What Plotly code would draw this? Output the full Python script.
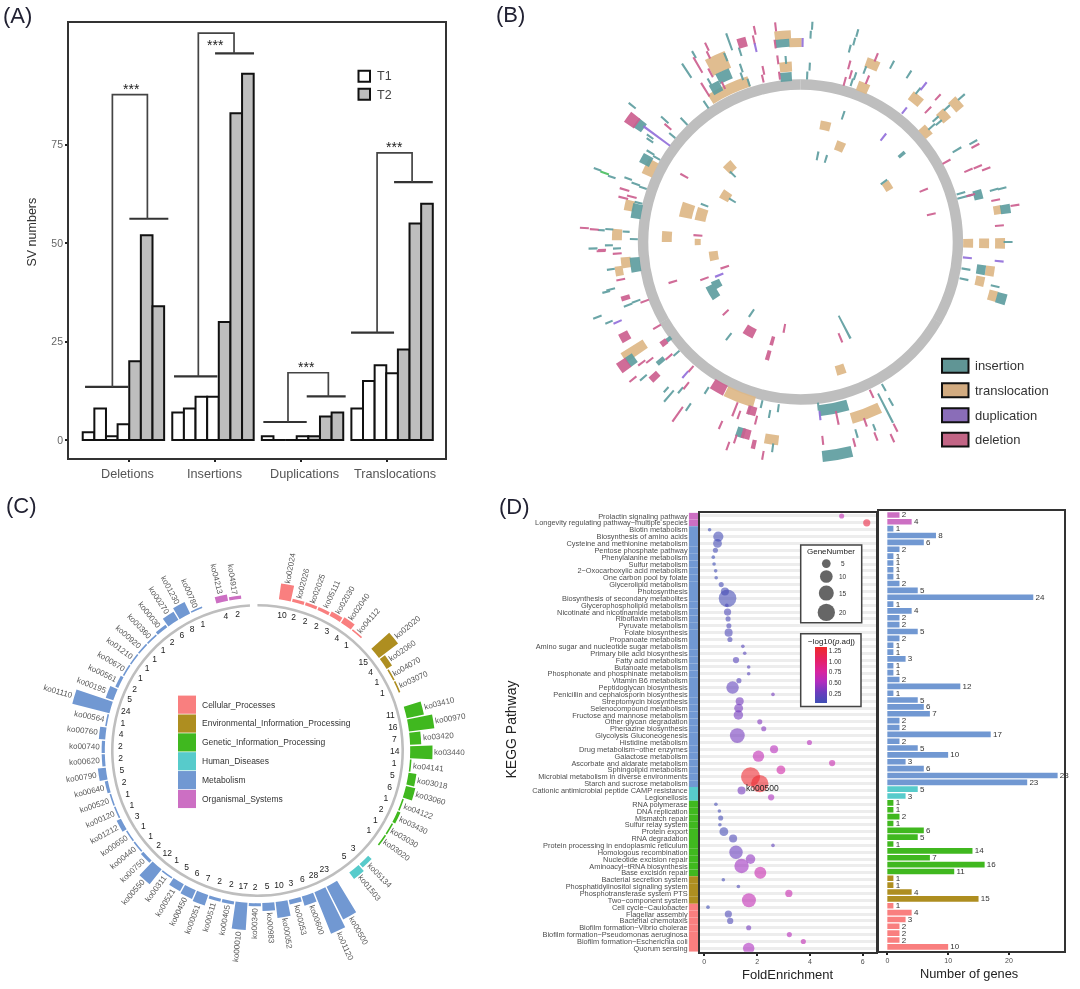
import math
import plotly.graph_objects as go

FONT = "Liberation Sans"
W, H = 1080, 989
def fx(p): return p / W
def fy(p): return 1 - p / H

# ---------- Panel A ----------
sv_groups = ["Deletions", "Insertions", "Duplications", "Translocations"]
sv_values = [[2, 8, 1, 4, 20, 52, 34], [7, 8, 11, 11, 30, 83, 93], [1, 0, 0, 1, 1, 6, 7], [8, 15, 19, 17, 23, 55, 60]]
sv_ticks = [3.48, 10.88, 18.27, 25.67]
sv_label_x = [3.31, 10.79, 18.6, 26.35]
br_lower = [(-0.3, 3.42, 13.5), (7.35, 11.08, 16.2), (15.03, 18.76, 4.6), (22.57, 26.27, 27.3)]
br_upper = [(3.51, 6.86, 56.2), (10.88, 14.23, 98.2), (18.76, 22.11, 11.1), (26.27, 29.6, 65.5)]
br_top = [(2.05, 5.06, 87.7), (9.44, 12.51, 103.3), (17.15, 20.62, 17.1), (24.81, 27.82, 72.9)]
br_star = [(3.71, 89.2), (10.88, 100.3), (18.76, 18.6), (26.35, 74.3)]

# ---------- Panel B: (genome angle, track radius, radial length[, angular span]) ----------
insertion_marks = [(309,217,9),(306,199,10,3),(312,183,10),(316,168,10),(309.7,167,8),(305,184,8),(304,182,8),(300.8,175,9),(300.3,167,8),(298,175,11,3.3),(315,96,8),(301.4,80,8),(289.7,216,8),(289,200,8),(290.2,184,8),(289.4,175,9),(289,167,8),(283.6,167,8),(280.6,167,10,5),(291,103,8),(273.4,200,7),(273.8,192,8),(273.4,175,7),(271,167,8),(268.2,208,9),(269,192,8),(268,184,8),(325.5,167,9),(331.3,176,11,3.5),(335.3,183,11,4.5),(330.4,184,9),(326.4,206,17),(330.4,216,8),(338,200,9),(340.4,213,18),(342.4,200,9),(341.2,184,9),(340.5,176,8),(342,168,8),(354.8,200,8,4),(355.4,183,8),(355,166,9,4),(3.1,217,8),(2.8,208,8),(3,176,8),(2.3,167,8),(11.2,88,9),(15.2,217,8),(15,208,8),(14.3,200,8),(17.8,168,8),(18.2,175,8),(20.5,184,8),(27.3,200,9),(32.9,200,9),(37.9,192,8),(48,217,9),(47.5,199,8),(47.7,183,8),(49.2,183,8),(48.7,175,9),(59.5,182,10),(60,200,9),(73.1,168,9),(74.6,171,16),(75.1,184,9,3),(74.9,201,9),(75.1,209,9),(80.9,208,10,2.5),(90,208,9),(18.6,134,9),(17,87,8),(49.2,134,8,1.5),(54.3,103,8),(99.3,168,9),(98.7,183,9,3),(102.8,168,9),(102.8,200,9),(105.7,209,10,3),(152.6,96,26),(150.2,168,8),(150.5,184,9),(152.9,187,33),(158.3,200,7),(163.7,200,9),(168.8,170,11,10),(170.2,216,11,8),(173.8,166,8),(187.6,168,8),(190.2,175,8),(193.5,167,8),(212.3,176,8),(196.9,176,9),(197.4,200,10,2.5),(187.7,208,9),(214.2,200,9),(219,191,8),(222.3,200,7),(220.5,203,15),(229.2,208,9),(229.6,184,9,1.5),(228.1,167,8),(235.1,207,9,3),(233.6,164,6,1.5),(250.2,175,9),(249.9,184,9),(256,196,9),(255.6,201,8),(262.2,167,10,5),(261.8,192,8),(249.7,217,9),(247.3,208,8),(243.3,94,9,5),(240.4,101,9,8),(214.6,86.5,9),(217.2,119,9)]
translocation_marks = [(296.2,168,11,5.5),(316.7,103,10,5.5),(301.6,88,10,6),(282,175,10,3.5),(285.4,118,13,7),(285.4,103,11,7),(272.3,134,10,4.5),(270,103,6,3.5),(272.3,184,10,3.5),(335,169,11,14.5),(335.3,197,18,6),(355.1,208,9,4.5),(358.5,200,9,3.7),(355.2,176,10,4),(22,192,10,4),(22,167,10,4),(38.9,184,10,4),(48.5,208,10,3.5),(48.6,191,10,3.5),(48.6,167,9,4),(80.8,200,8,2.5),(90.4,168,10,3),(90.4,184,10,3),(90.4,200,10,3),(12,119,9,5),(22.4,103.5,10,5),(57.3,103.6,8,5),(98.7,192,9,3),(102.3,184,9,3),(105.6,200,9,3),(162.6,134,10,4),(159.2,184,11,9.5),(201.3,167,11,10.5),(188.3,200,10,4),(236.8,199,26,3),(260.9,184,8,3),(263.3,176,10,3.5),(261,88,9,6)]
deletion_marks = [(305.9,208,12,3.3),(311,176,9),(299.6,134,9),(286.6,184,10),(285,175,10),(284,183,10),(273.7,103,9),(273.7,217,9),(273.5,207,9),(267.7,199,8),(328,180,16),(332,192,10),(333.8,175,8),(329.9,205,18),(333.8,209,8),(334.4,217,9),(343.7,208,10,2.5),(347.8,217,9),(347,208,9),(347.8,176,9),(347,168,8),(353.4,217,9),(352.7,200,9),(352.9,184,9),(352.8,168,8),(15.4,184,9),(16.7,175,9),(15.4,167,9),(22.3,200,9),(22.4,176,9),(43.5,200,8),(44,184,9),(61.2,167,9),(61.2,200,9),(66.9,183,9),(67,193,9),(68.5,200,9),(74.6,177,9),(77.9,200,9),(80.3,218,9),(85.3,200,9),(67.2,134,9),(78,134,9),(157.4,104,10),(154.9,168,9),(152.9,209,9),(160.2,192,9),(158.8,209,9),(154.9,217,9),(165,208,9),(168.2,180,14),(173.6,200,9),(209.3,167,11,5),(201.4,180,15),(199.6,184,9),(196.1,176,9,3),(194,184,9),(203.6,200,9),(195.8,200,10,2.5),(198.3,208,9),(199.6,217,9),(193,208,9,1.2),(190,217,9),(215.5,212,18),(218.5,184,9),(220.8,168,8),(230.7,217,9),(227.3,199,10,2),(228.9,175,9),(231.9,192,9),(232.7,200,9),(235.1,216,11,3),(241.7,200,10,2.7),(239.4,167,9),(233.6,170,7,2),(249.2,167,9),(252.3,184,9,1.5),(258.2,184,9),(267.4,200,9),(266.4,184,9),(251.6,80,9),(249.1,103,9),(252.7,134,9),(226.7,103,8),(209.5,103,10,6),(190.6,88,9),(195.9,103,9,2),(195.9,118,10,2)]
duplication_marks = [(306.4,179,33),(347,200,9),(0.6,200,9),(38.3,199,10),(38.3,168,8),(38.3,134,9),(95.4,168,9),(95.5,200,9),(173.6,175,9),(221,176,9),(246.4,200,9),(247.8,88,9)]
other_marks = [(289.4,208,9)]
sv_legend = ["insertion", "translocation", "duplication", "deletion"]

# ---------- Panel D / C shared ----------
pathways = ["Prolactin signaling pathway","Longevity regulating pathway−multiple species","Biotin metabolism","Biosynthesis of amino acids","Cysteine and methionine metabolism","Pentose phosphate pathway","Phenylalanine metabolism","Sulfur metabolism","2−Oxocarboxylic acid metabolism","One carbon pool by folate","Glycerolipid metabolism","Photosynthesis","Biosynthesis of secondary metabolites","Glycerophospholipid metabolism","Nicotinate and nicotinamide metabolism","Riboflavin metabolism","Pyruvate metabolism","Folate biosynthesis","Propanoate metabolism","Amino sugar and nucleotide sugar metabolism","Primary bile acid biosynthesis","Fatty acid metabolism","Butanoate metabolism","Phosphonate and phosphinate metabolism","Vitamin B6 metabolism","Peptidoglycan biosynthesis","Penicillin and cephalosporin biosynthesis","Streptomycin biosynthesis","Selenocompound metabolism","Fructose and mannose metabolism","Other glycan degradation","Phenazine biosynthesis","Glycolysis Gluconeogenesis","Histidine metabolism","Drug metabolism−other enzymes","Galactose metabolism","Ascorbate and aldarate metabolism","Sphingolipid metabolism","Microbial metabolism in diverse environments","Starch and sucrose metabolism","Cationic antimicrobial peptide CAMP resistance","Legionellosis","RNA polymerase","DNA replication","Mismatch repair","Sulfur relay system","Protein export","RNA degradation","Protein processing in endoplasmic reticulum","Homologous recombination","Nucleotide excision repair","Aminoacyl−tRNA biosynthesis","Base excision repair","Bacterial secretion system","Phosphatidylinositol signaling system","Phosphotransferase system PTS","Two−component system","Cell cycle−Caulobacter","Flagellar assembly","Bacterial chemotaxis","Biofilm formation−Vibrio cholerae","Biofilm formation−Pseudomonas aeruginosa","Biofilm formation−Escherichia coli","Quorum sensing"]
gene_counts = [2,4,1,8,6,2,1,1,1,1,2,5,24,1,4,2,2,5,2,1,1,3,1,1,2,12,1,5,6,7,2,2,17,2,5,10,3,6,28,23,5,3,1,1,2,1,6,5,1,14,7,16,11,1,1,4,15,1,4,3,2,2,2,10]
fold_enrichment = [5.2,6.15,0.2,0.53,0.5,0.42,0.34,0.37,0.43,0.45,0.64,0.78,0.88,0.85,0.88,0.9,0.93,0.92,0.97,1.46,1.53,1.2,1.68,1.68,1.31,1.07,2.6,1.34,1.3,1.29,2.1,2.25,1.25,3.98,2.64,2.05,4.84,2.9,1.75,2.1,1.41,2.53,0.44,0.57,0.62,0.59,0.74,1.09,2.6,1.2,1.75,1.41,2.12,0.72,1.29,3.2,1.69,0.14,0.91,0.98,1.68,3.22,3.75,1.68]
neg_log_p = [.6,1.2,.02,.05,.05,.05,.02,.02,.03,.03,.05,.05,.05,.08,.1,.08,.1,.1,.1,.15,.15,.15,.15,.15,.15,.2,.3,.3,.3,.3,.35,.35,.3,.55,.55,.6,.65,.7,1.3,1.3,.3,.5,.05,.05,.05,.05,.05,.1,.2,.25,.4,.45,.65,.05,.1,.65,.6,.02,.1,.1,.3,.55,.6,.5]
category_names = ["Cellular_Processes","Environmental_Information_Processing","Genetic_Information_Processing","Human_Diseases","Metabolism","Organismal_Systems"]
category_colors = ["#F97F7F","#AE8E20","#40B81F","#57CBCB","#7198D2","#CC6FC3"]
category_rows_top_down = [(5,2),(4,38),(3,2),(2,11),(1,4),(0,7)]
ko_ids = ["ko02024","ko02026","ko02025","ko05111","ko02030","ko02040","ko04112","ko02020","ko02060","ko04070","ko03070","ko03410","ko00970","ko03420","ko03440","ko04141","ko03018","ko03060","ko04122","ko03430","ko03030","ko03020","ko05134","ko01503","ko00500","ko01120","ko00600","ko00053","ko00052","ko00983","ko00340","ko00010","ko00405","ko00511","ko00051","ko00450","ko00521","ko00311","ko00550","ko00750","ko00440","ko00650","ko01212","ko00120","ko00520","ko00640","ko00790","ko00620","ko00740","ko00760","ko00564","ko01110","ko00195","ko00561","ko00670","ko01210","ko00920","ko00360","ko00030","ko00270","ko01230","ko00780","ko04213","ko04917"]
legend_gene_sizes = [5, 10, 15, 20]
colorbar_ticks = [0.25, 0.5, 0.75, 1.0, 1.25]

row_cat = []
for c, n in category_rows_top_down:
    row_cat += [c] * n
row_colors = [category_colors[c] for c in row_cat]

fig = go.Figure()
shapes, ann = [], []
def note(px, py, text, size=10, color="#333333", xanchor="center", yanchor="middle", angle=0):
    ann.append(dict(x=fx(px), y=fy(py), xref="paper", yref="paper", text=text, showarrow=False,
                    font=dict(size=size, color=color, family=FONT), xanchor=xanchor, yanchor=yanchor,
                    textangle=angle, borderpad=0, borderwidth=0))
def box(x0, y0, x1, y1, fill, line="#111111", lw=2, kind="rect"):
    shapes.append(dict(type=kind, xref="paper", yref="paper", x0=fx(x0), x1=fx(x1), y0=fy(y0), y1=fy(y1),
                       fillcolor=fill, line=dict(color=line, width=lw), layer="above"))

# ---- A traces
STEP = 7.7
for mask, color in (((0, 4), "white"), ((4, 7), "#BEBEBE")):
    xs, ys = [], []
    for g, vals in enumerate(sv_values):
        for i in range(*mask):
            xs.append(g * STEP + i)
            ys.append(vals[i])
    fig.add_bar(x=xs, y=ys, width=1, marker=dict(color=color, line=dict(color="#111111", width=2)),
                xaxis="x", yaxis="y", showlegend=False, hoverinfo="skip")
lx, ly = [], []
for a, b, y in br_lower + br_upper:
    lx += [a, b, None]; ly += [y, y, None]
fig.add_scatter(x=lx, y=ly, mode="lines", line=dict(color="#333333", width=2.2), xaxis="x", yaxis="y",
                showlegend=False, hoverinfo="skip")
lx, ly = [], []
for k in range(4):
    a, b, y = br_top[k]
    lx += [a, a, b, b, None]
    ly += [br_lower[k][2], y, y, br_upper[k][2], None]
fig.add_scatter(x=lx, y=ly, mode="lines", line=dict(color="#444444", width=1.7), xaxis="x", yaxis="y",
                showlegend=False, hoverinfo="skip")
for sx, sy in br_star:
    ann.append(dict(x=sx, y=sy, xref="x", yref="y", text="***", showarrow=False,
                    font=dict(size=14, color="#222222", family=FONT)))
for name, xv in zip(sv_groups, sv_label_x):
    ann.append(dict(x=xv, y=fy(474), xref="x", yref="paper", text=name, showarrow=False,
                    font=dict(size=12.7, color="#555555", family=FONT)))
box(358.5, 70, 370, 81, "white"); box(358.5, 88, 370, 99, "#BEBEBE")
note(384, 75, "T1", 12.5, "#444444"); note(384, 94, "T2", 12.5, "#444444")
note(32, 232, "SV numbers", 12.5, "#333333", angle=-90)

# ---- B traces
def polar_marks(marks, color, sub):
    th, r, base, wd = [], [], [], []
    for m in marks:
        t, rc, ln = m[:3]
        th.append(t); r.append(ln); base.append(rc - ln / 2)
        wd.append(m[3] if len(m) > 3 else math.degrees(2.1 / rc))
    fig.add_trace(go.Barpolar(theta=th, r=r, base=base, width=wd, marker=dict(color=color, line=dict(width=0)),
                              subplot=sub, showlegend=False, hoverinfo="skip", opacity=0.92))
ring_b_theta = [60, 180, 300]
fig.add_trace(go.Barpolar(theta=ring_b_theta, r=[10.5]*3, base=[152.5]*3, width=[120.05]*3,
                          marker=dict(color="#BEBEBE", line=dict(width=0)), subplot="polar", showlegend=False, hoverinfo="skip"))
polar_marks(translocation_marks, "#DEB887", "polar")
polar_marks(insertion_marks, "#5F9EA0", "polar")
polar_marks(deletion_marks, "#CD6090", "polar")
polar_marks(duplication_marks, "#9370DB", "polar")
polar_marks(other_marks, "#4CBF62", "polar")
for name, y0, col in zip(sv_legend, (358.5, 383, 408, 432.5), ("#609595", "#D2AB80", "#8A6DB8", "#C26585")):
    box(942, y0, 968.5, y0 + 14, col)
    note(975, y0 + 7, name, 13, "#333333", xanchor="left")

# ---- C traces
SLOT = 5.02
C_CX, C_CY = 257.5, 751
counts_cw = gene_counts[::-1]
cats_cw = row_cat[::-1]
theta_c, gap = [], 0
for i, c in enumerate(cats_cw):
    if i and c != cats_cw[i - 1]:
        gap += 1
    theta_c.append(10.3 + SLOT * (i + gap))
fig.add_trace(go.Barpolar(theta=[59.5, 178.5, 297.5], r=[2.6]*3, base=[144.2]*3, width=[119.05]*3,
                          marker=dict(color="#BEBEBE", line=dict(width=0)), subplot="polar2", showlegend=False, hoverinfo="skip"))
fig.add_trace(go.Barpolar(theta=theta_c, r=[v * 1.6 for v in counts_cw], base=[153]*64, width=[4.5]*64,
                          marker=dict(color=[category_colors[c] for c in cats_cw], line=dict(width=0)),
                          subplot="polar2", showlegend=False, hoverinfo="skip"))
fig.add_trace(go.Scatterpolar(theta=theta_c, r=[137.5]*64, text=[str(v) for v in counts_cw], mode="text",
                              textfont=dict(size=8.5, color="#222222", family=FONT), subplot="polar2",
                              showlegend=False, hoverinfo="skip"))
for t, v, ko in zip(theta_c, counts_cw, ko_ids):
    rr = 153 + v * 1.6 + 2 + 15
    a = math.radians(t)
    ang = t - 90 if t < 180 else t - 270
    note(C_CX + rr * math.sin(a), C_CY - rr * math.cos(a), ko, 8, "#595959", angle=ang)
for k, (name, col) in enumerate(zip(category_names, category_colors)):
    y0 = 696 + k * 18.9
    box(178, y0, 196, y0 + 18.2, col, line=col, lw=0)
    note(202, y0 + 9, name, 8.5, "#333333", xanchor="left")

# ---- D traces
strip_y = pathways
fig.add_bar(x=[1]*64, y=strip_y, orientation="h", width=1, marker=dict(color=row_colors, line=dict(width=0)),
            xaxis="x3", yaxis="y3", showlegend=False, hoverinfo="skip")
fig.add_scatter(x=fold_enrichment, y=pathways, mode="markers", xaxis="x2", yaxis="y2", showlegend=False, hoverinfo="skip",
                marker=dict(size=[3.6 * math.sqrt(g) for g in gene_counts], sizemode="diameter", color=neg_log_p,
                            opacity=0.6, line=dict(width=0), cmin=0.013, cmax=1.33,
                            colorscale=[[0, "#3F4FB5"], [0.19, "#6B3DBE"], [0.38, "#B12DBF"], [0.56, "#D8249F"], [0.75, "#E5206A"], [1, "#EE2A2A"]],
                            colorbar=dict(x=fx(815), xanchor="left", y=fy(675.7), yanchor="middle", xpad=0, ypad=0,
                                          thickness=12, thicknessmode="pixels", len=55.5, lenmode="pixels",
                                          tickvals=colorbar_ticks, ticktext=["%.2f" % v for v in colorbar_ticks],
                                          tickfont=dict(size=6.5, color="#333333", family=FONT), ticks="", outlinewidth=0)))
for v in range(7):
    shapes.append(dict(type="line", xref="x2", yref="y2", x0=v, x1=v, y0=-0.48, y1=63.5, layer="below",
                       line=dict(color="white", width=2)))
ann.append(dict(x=2.2, y="Starch and sucrose metabolism", xref="x2", yref="y2", yshift=-4.3, text="ko00500", showarrow=False,
                font=dict(size=8.5, color="#222222", family=FONT)))
fig.add_bar(x=gene_counts, y=pathways, orientation="h", width=0.82, marker=dict(color=row_colors, line=dict(width=0)),
            text=["\u00a0" + str(g) for g in gene_counts], textposition="outside", cliponaxis=False, constraintext="none",
            textfont=dict(size=8, color="#333333", family=FONT), xaxis="x4", yaxis="y4", showlegend=False, hoverinfo="skip")
note(511, 730, "KEGG Pathway", 14, "#222222", angle=-90)
note(787, 975, "FoldEnrichment", 13, "#222222")
note(969, 974, "Number of genes", 12.8, "#222222")
box(800.7, 545, 861.7, 623, "white", line="#444444", lw=1.5)
box(800.7, 634, 861, 707, "white", line="#444444", lw=1.5)
note(831.3, 551.5, "GeneNumber", 8, "#222222")
note(831.7, 641.7, "−log10(<i>p</i>.adj)", 8, "#222222")
for g, py, d in zip(legend_gene_sizes, (563.7, 576.7, 593.3, 612.7), (8.7, 12.7, 15, 17.3)):
    box(826.3 - d / 2, py - d / 2, 826.3 + d / 2, py + d / 2, "#666666", line="#666666", lw=0, kind="circle")
    note(843, py, str(g), 6.5, "#333333")

for t, x, y in (("(A)", 17, 15), ("(B)", 510, 14), ("(C)", 21.5, 506), ("(D)", 514.5, 507)):
    note(x, y, t, 22, "#222233")

def frame(**kw):
    d = dict(showline=True, mirror=True, linecolor="#333333", linewidth=1.8, zeroline=False, showgrid=False,
             tickfont=dict(size=7, color="#4D4D4D", family=FONT), ticks="outside", ticklen=2, tickwidth=1.6, tickcolor="#222222")
    d.update(kw)
    return d

polar_common = dict(bgcolor="rgba(0,0,0,0)", barmode="overlay", bargap=0,
                    angularaxis=dict(visible=False, rotation=90, direction="clockwise"))
fig.update_layout(
    width=W, height=H, margin=dict(l=0, r=0, t=0, b=0), paper_bgcolor="white", plot_bgcolor="white",
    barmode="overlay", font=dict(family=FONT), showlegend=False,
    shapes=shapes, annotations=ann,
    xaxis=frame(domain=[fx(69), fx(445)], range=[-1.68, 30.65], tickvals=sv_ticks, ticktext=[""] * 4, anchor="y"),
    yaxis=frame(domain=[fy(458), fy(22)], range=[-4.56, 105.9], tickvals=[0, 25, 50, 75],
                tickfont=dict(size=10.5, color="#666666", family=FONT), anchor="x"),
    xaxis2=frame(domain=[fx(700), fx(876)], range=[-0.163, 6.5], tickvals=[0, 2, 4, 6], anchor="y2"),
    yaxis2=frame(domain=[fy(952.7), fy(512.7)], type="category", categoryorder="array", categoryarray=pathways, range=[63.5, -0.48],
                 tickvals=pathways, ticktext=[""] * 64, showgrid=True, gridcolor="#EDEDED", gridwidth=3, anchor="x2"),
    xaxis3=dict(domain=[fx(688.7), fx(698)], range=[0, 1], visible=False, anchor="y3"),
    yaxis3=dict(domain=[fy(952.7), fy(512.7)], type="category", categoryorder="array", categoryarray=pathways, range=[63.5, -0.48],
                tickvals=pathways, ticktext=pathways, ticks="", showline=False, showgrid=False, zeroline=False,
                tickfont=dict(size=7.4, color="#4D4D4D", family=FONT), anchor="x3"),
    xaxis4=frame(domain=[fx(879), fx(1064.3)], range=[-1.37, 29.1], tickvals=[0, 10, 20], anchor="y4"),
    yaxis4=frame(domain=[fy(951.7), fy(511)], type="category", categoryorder="array", categoryarray=pathways, range=[63.57, -0.58],
                 ticks="", showticklabels=False, anchor="x4"),
    polar=dict(domain=dict(x=[fx(800.5 - 230), fx(800.5 + 230)], y=[fy(241.5 + 230), fy(241.5 - 230)]),
               radialaxis=dict(visible=False, range=[0, 230]), **polar_common),
    polar2=dict(domain=dict(x=[fx(C_CX - 215), fx(C_CX + 215)], y=[fy(C_CY + 215), fy(C_CY - 215)]),
                radialaxis=dict(visible=False, range=[0, 215]), **polar_common),
)
fig.write_html("out.html", config=dict(displayModeBar=False),
               post_script="document.body.style.margin='0';document.body.style.overflow='hidden';document.body.style.filter='blur(0.4px)';")
